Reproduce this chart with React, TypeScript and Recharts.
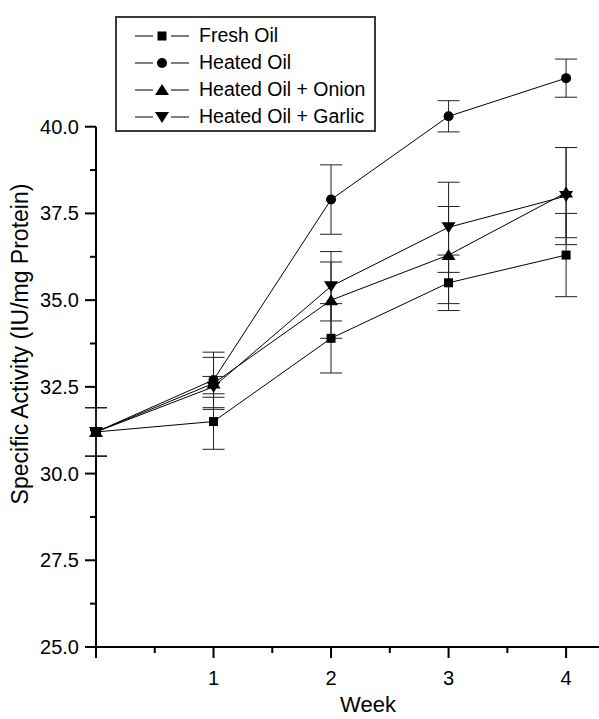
import React from 'react';
import {
  LineChart,
  Line,
  XAxis,
  YAxis,
  ErrorBar,
  Legend,
  ReferenceLine,
} from 'recharts';

const FONT = '"Liberation Sans", Arial, sans-serif';

// weeks on the x axis
const WEEKS = [0, 1, 2, 3, 4];

// specific activity (IU/mg protein) and the +/- error for each group
const FRESH = [31.2, 31.5, 33.9, 35.5, 36.3];
const FRESH_ERR = [0.7, 0.8, 1.0, 0.8, 1.2];
const HEATED = [31.2, 32.7, 37.9, 40.3, 41.4];
const HEATED_ERR = [0.7, 0.8, 1.0, 0.45, 0.55];
const ONION = [31.2, 32.6, 35.0, 36.3, 38.1];
const ONION_ERR = [0.7, 0.75, 1.1, 1.4, 1.3];
const GARLIC = [31.2, 32.5, 35.4, 37.1, 38.0];
const GARLIC_ERR = [0.7, 0.3, 1.0, 1.3, 1.4];

const SERIES_KEYS = ['fresh', 'heated', 'onion', 'garlic'];
const SERIES_NAMES = ['Fresh Oil', 'Heated Oil', 'Heated Oil + Onion', 'Heated Oil + Garlic'];
const SERIES_SHAPES = ['square', 'circle', 'up', 'down'];

const X_TICKS = [0, 0.5, 1, 1.5, 2, 2.5, 3, 3.5, 4];
const Y_TICKS = [25, 26.25, 27.5, 28.75, 30, 31.25, 32.5, 33.75, 35, 36.25, 37.5, 38.75, 40];

const data = WEEKS.map((week, i) => ({
  week,
  fresh: FRESH[i],
  freshErr: FRESH_ERR[i],
  heated: HEATED[i],
  heatedErr: HEATED_ERR[i],
  onion: ONION[i],
  onionErr: ONION_ERR[i],
  garlic: GARLIC[i],
  garlicErr: GARLIC_ERR[i],
}));

const Marker = ({ cx, cy, shape }: { cx: number; cy: number; shape: string }) => {
  if (shape === 'square') {
    return <rect x={cx - 4.5} y={cy - 4.5} width={9} height={9} fill="#000" />;
  }
  if (shape === 'circle') {
    return <circle cx={cx} cy={cy} r={5} fill="#000" />;
  }
  if (shape === 'up') {
    return <polygon points={`${cx},${cy - 6} ${cx + 7},${cy + 5} ${cx - 7},${cy + 5}`} fill="#000" />;
  }
  return <polygon points={`${cx},${cy + 6} ${cx + 7},${cy - 5} ${cx - 7},${cy - 5}`} fill="#000" />;
};

const YTick = (props: any) => {
  const { x, y, payload } = props;
  const v = payload.value;
  const major = Math.abs(v / 2.5 - Math.round(v / 2.5)) < 1e-6;
  return (
    <g>
      <line x1={x - (major ? 11 : 6)} x2={x} y1={y} y2={y} stroke="#000" strokeWidth={2} />
      {major && (
        <text x={x - 17} y={y + 7} textAnchor="end" fontSize={20} fontFamily={FONT} fill="#000">
          {v.toFixed(1)}
        </text>
      )}
    </g>
  );
};

const XTick = (props: any) => {
  const { x, y, payload } = props;
  const v = payload.value;
  const major = Number.isInteger(v);
  return (
    <g>
      <line x1={x} x2={x} y1={y} y2={y + (major ? 11 : 6)} stroke="#000" strokeWidth={2} />
      {major && v > 0 && (
        <text x={x} y={y + 38} textAnchor="middle" fontSize={20} fontFamily={FONT} fill="#000">
          {v}
        </text>
      )}
    </g>
  );
};

const XTitle = () => (
  <text x={368} y={712} textAnchor="middle" fontSize={22} fontFamily={FONT} fill="#000">
    Week
  </text>
);

const YTitle = () => (
  <text
    x={28}
    y={344}
    transform="rotate(-90, 28, 344)"
    textAnchor="middle"
    fontSize={23}
    fontFamily={FONT}
    fill="#000"
  >
    Specific Activity (IU/mg Protein)
  </text>
);

const LegendBox = () => (
  <div
    style={{
      width: 257,
      height: 112,
      border: '2px solid #3a3a3a',
      background: '#fff',
      fontFamily: FONT,
      fontSize: 19.5,
      position: 'relative',
    }}
  >
    {SERIES_NAMES.map((name, i) => (
      <div
        key={name}
        style={{ position: 'absolute', left: 18, top: 4 + i * 27, height: 27, display: 'flex', alignItems: 'center' }}
      >
        <svg width={56} height={20} style={{ display: 'block' }}>
          <line x1={0} x2={18} y1={10} y2={10} stroke="#000" strokeWidth={1} />
          <line x1={36} x2={54} y1={10} y2={10} stroke="#000" strokeWidth={1} />
          <Marker cx={27} cy={10} shape={SERIES_SHAPES[i]} />
        </svg>
        <span style={{ marginLeft: 8, color: '#000', whiteSpace: 'nowrap' }}>{name}</span>
      </div>
    ))}
  </div>
);

export default function App() {
  return (
    <div style={{ position: 'absolute', left: 0, top: 0, width: 599, height: 719, background: '#fff' }}>
      <LineChart width={599} height={719} data={data} margin={{ top: 40, right: 0, bottom: 0, left: 0 }}>
        <XAxis
          dataKey="week"
          type="number"
          domain={[0, 4.28]}
          ticks={X_TICKS}
          interval={0}
          height={72}
          tickSize={0}
          tickMargin={0}
          tickLine={false}
          axisLine={{ stroke: '#000', strokeWidth: 2 }}
          tick={<XTick />}
          label={<XTitle />}
        />
        <YAxis
          type="number"
          domain={[25, 42.5]}
          ticks={Y_TICKS}
          interval={0}
          width={96}
          tickSize={0}
          tickMargin={0}
          tickLine={false}
          axisLine={false}
          tick={<YTick />}
          label={<YTitle />}
          allowDecimals
        />
        <ReferenceLine
          segment={[
            { x: 0, y: 25 },
            { x: 0, y: 40 },
          ]}
          stroke="#000"
          strokeWidth={2}
        />
        <Legend
          layout="vertical"
          align="center"
          verticalAlign="middle"
          wrapperStyle={{ position: 'absolute', left: 115, top: 16, width: 261, height: 116 }}
          content={() => <LegendBox />}
        />
        {SERIES_KEYS.map((key, i) => (
          <Line
            key={key}
            dataKey={key}
            name={SERIES_NAMES[i]}
            type="linear"
            stroke="#000"
            strokeWidth={1}
            isAnimationActive={false}
            activeDot={false}
            dot={(p: any) => <Marker key={`${key}-${p.index}`} cx={p.cx} cy={p.cy} shape={SERIES_SHAPES[i]} />}
          >
            <ErrorBar
              dataKey={`${key}Err`}
              direction="y"
              width={11}
              stroke="#222"
              strokeWidth={1}
              isAnimationActive={false}
            />
          </Line>
        ))}
      </LineChart>
    </div>
  );
}
